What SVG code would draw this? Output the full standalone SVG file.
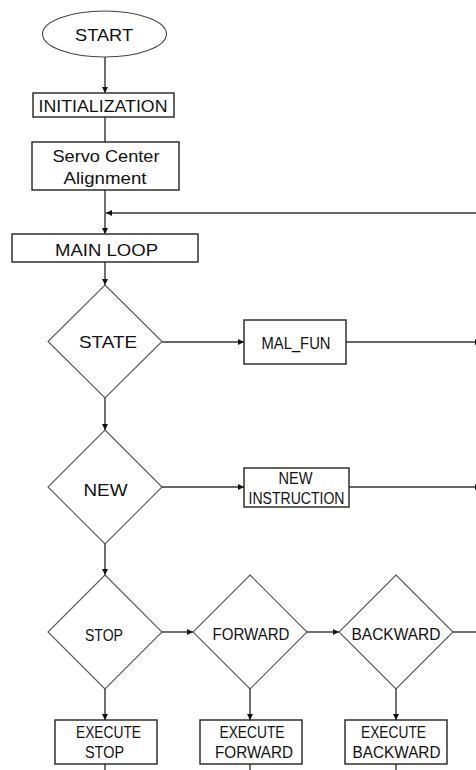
<svg xmlns="http://www.w3.org/2000/svg" width="476" height="770" viewBox="0 0 476 770">
<defs>
<marker id="ah" viewBox="0 0 8 8" refX="8" refY="4" markerWidth="6" markerHeight="6" markerUnits="userSpaceOnUse" orient="auto">
<path d="M0,0 L8,4 L0,8 z" fill="#111"/>
</marker>
<style>
.box{fill:#fff;stroke:#222;stroke-width:1.4}
.dia{fill:#fff;stroke:#555;stroke-width:1.1}
.ell{fill:#fff;stroke:#444;stroke-width:1.1}
.c{fill:none;stroke:#333;stroke-width:1.4}
.a{marker-end:url(#ah)}
text{font-family:"Liberation Sans",Arial,sans-serif;font-size:17px;fill:#111;text-anchor:middle}
</style>
</defs>
<rect width="476" height="770" fill="#fff"/>
<g id="connectors">
<line class="c a" x1="105" y1="57" x2="105" y2="93"/>
<line class="c" x1="105" y1="117" x2="105" y2="142"/>
<line class="c a" x1="105" y1="190" x2="105" y2="234"/>
<line class="c a" x1="476" y1="213" x2="106" y2="213"/>
<line class="c a" x1="105" y1="262" x2="105" y2="285"/>
<line class="c a" x1="105" y1="398" x2="105" y2="430"/>
<line class="c a" x1="105" y1="544" x2="105" y2="575"/>
<line class="c a" x1="162" y1="342" x2="244" y2="342"/>
<line class="c a" x1="346" y1="342" x2="481" y2="342"/>
<line class="c a" x1="162" y1="487" x2="244" y2="487"/>
<line class="c a" x1="349" y1="487" x2="481" y2="487"/>
<line class="c a" x1="162" y1="632" x2="193" y2="632"/>
<line class="c a" x1="307" y1="632" x2="339" y2="632"/>
<line class="c" x1="453" y1="632" x2="476" y2="632"/>
<line class="c a" x1="105" y1="689" x2="105" y2="720"/>
<line class="c a" x1="250" y1="689" x2="250" y2="720"/>
<line class="c a" x1="396" y1="689" x2="396" y2="720"/>
<line class="c" x1="105" y1="764" x2="105" y2="770"/>
<line class="c" x1="250" y1="764" x2="250" y2="770"/>
<line class="c" x1="396" y1="764" x2="396" y2="770"/>
</g>
<g id="start">
<ellipse class="ell" cx="104.5" cy="34" rx="62" ry="23"/>
<text x="104" y="40.5" textLength="58" lengthAdjust="spacingAndGlyphs">START</text>
</g>
<g id="init">
<rect class="box" x="33" y="93" width="141" height="24"/>
<text x="103" y="111.5" textLength="129" lengthAdjust="spacingAndGlyphs">INITIALIZATION</text>
</g>
<g id="servo">
<rect class="box" x="32" y="142" width="147" height="48"/>
<text x="106" y="161.5" textLength="107" lengthAdjust="spacingAndGlyphs">Servo Center</text>
<text x="105" y="183.5" textLength="83" lengthAdjust="spacingAndGlyphs">Alignment</text>
</g>
<g id="mainloop">
<rect class="box" x="12" y="234" width="186" height="28"/>
<text x="106.5" y="255.5" textLength="103" lengthAdjust="spacingAndGlyphs">MAIN LOOP</text>
</g>
<g id="state">
<polygon class="dia" points="105,285 162,341.5 105,398 48,341.5"/>
<text x="108" y="347.5" textLength="58" lengthAdjust="spacingAndGlyphs">STATE</text>
</g>
<g id="malfun">
<rect class="box" x="244" y="320" width="102" height="44"/>
<text x="296" y="348.5" textLength="69" lengthAdjust="spacingAndGlyphs">MAL_FUN</text>
</g>
<g id="new">
<polygon class="dia" points="105,430 162,487 105,544 48,487"/>
<text x="105.5" y="495.5" textLength="44" lengthAdjust="spacingAndGlyphs">NEW</text>
</g>
<g id="newinstr">
<rect class="box" x="244" y="468" width="105" height="39"/>
<text x="295.5" y="484" font-size="15" textLength="34" lengthAdjust="spacingAndGlyphs">NEW</text>
<text x="296.5" y="504" font-size="15" textLength="96" lengthAdjust="spacingAndGlyphs">INSTRUCTION</text>
</g>
<g id="stop">
<polygon class="dia" points="105,575 162,632 105,689 48,632"/>
<text x="104" y="640.5" font-size="16" textLength="38" lengthAdjust="spacingAndGlyphs">STOP</text>
</g>
<g id="forward">
<polygon class="dia" points="250,575 307,632 250,689 193,632"/>
<text x="251" y="639.5" font-size="16" textLength="77" lengthAdjust="spacingAndGlyphs">FORWARD</text>
</g>
<g id="backward">
<polygon class="dia" points="396,575 453,632 396,689 339,632"/>
<text x="396" y="639.5" font-size="16" textLength="89" lengthAdjust="spacingAndGlyphs">BACKWARD</text>
</g>
<g id="exstop">
<rect class="box" x="55" y="720" width="102" height="44"/>
<text x="108.5" y="738" font-size="16" textLength="65" lengthAdjust="spacingAndGlyphs">EXECUTE</text>
<text x="104.5" y="758" font-size="16" textLength="39" lengthAdjust="spacingAndGlyphs">STOP</text>
</g>
<g id="exforward">
<rect class="box" x="200" y="720" width="102" height="44"/>
<text x="252" y="738" font-size="16" textLength="65" lengthAdjust="spacingAndGlyphs">EXECUTE</text>
<text x="254" y="758" font-size="16" textLength="78" lengthAdjust="spacingAndGlyphs">FORWARD</text>
</g>
<g id="exbackward">
<rect class="box" x="345" y="720" width="102" height="44"/>
<text x="393.5" y="738" font-size="16" textLength="65" lengthAdjust="spacingAndGlyphs">EXECUTE</text>
<text x="396.5" y="758" font-size="16" textLength="88" lengthAdjust="spacingAndGlyphs">BACKWARD</text>
</g>
</svg>
